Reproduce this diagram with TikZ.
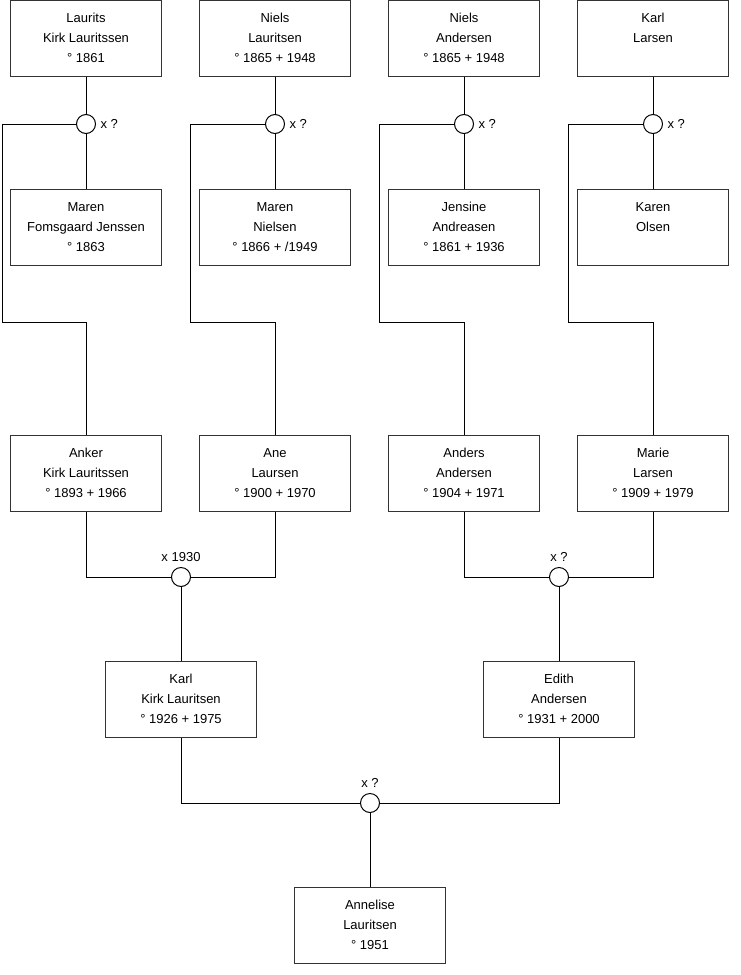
\documentclass[tikz,border=0pt]{standalone}
\usepackage{fontspec}
\setmainfont{Liberation Sans}

\begin{document}
\begin{tikzpicture}[x=1pt,y=-1pt,line width=1pt,
  person/.style={draw=black!80,minimum width=151pt,minimum height=76pt,inner sep=0pt,align=center,font=\fontsize{13}{20}\selectfont},
  wed/.style={draw,circle,minimum size=19pt,inner sep=0pt,fill=white},
  note/.style={font=\fontsize{13}{14}\selectfont,inner sep=0pt}]
  \useasboundingbox (0,0) rectangle (740,975);
  \node[person] (laurits) at (86,38){Laurits\\Kirk Lauritssen\\° 1861};
  \node[person] (nielsL) at (275,38){Niels\\Lauritsen\\° 1865 + 1948};
  \node[person] (nielsA) at (464,38){Niels\\Andersen\\° 1865 + 1948};
  \node[person] (karlL) at (653,38){Karl\\Larsen\\\mbox{}};
  \node[person] (marenF) at (86,227){Maren\\Fomsgaard Jenssen\\° 1863};
  \node[person] (marenN) at (275,227){Maren\\Nielsen\\° 1866 + /1949};
  \node[person] (jensine) at (464,227){Jensine\\Andreasen\\° 1861 + 1936};
  \node[person] (karen) at (653,227){Karen\\Olsen\\\mbox{}};
  \node[person] (anker) at (86,473){Anker\\Kirk Lauritssen\\° 1893 + 1966};
  \node[person] (ane) at (275,473){Ane\\Laursen\\° 1900 + 1970};
  \node[person] (anders) at (464,473){Anders\\Andersen\\° 1904 + 1971};
  \node[person] (marie) at (653,473){Marie\\Larsen\\° 1909 + 1979};
  \node[person] (karl) at (181,699){Karl\\Kirk Lauritsen\\° 1926 + 1975};
  \node[person] (edith) at (559,699){Edith\\Andersen\\° 1931 + 2000};
  \node[person] (annelise) at (370,925){Annelise\\Lauritsen\\° 1951};
  % marriages
  \node[wed,label={[note,label distance=4pt]right:x ?}] (w1) at (86,124){};
  \node[wed,label={[note,label distance=4pt]right:x ?}] (w2) at (275,124){};
  \node[wed,label={[note,label distance=4pt]right:x ?}] (w3) at (464,124){};
  \node[wed,label={[note,label distance=4pt]right:x ?}] (w4) at (653,124){};
  \node[wed,label={[note,label distance=5pt]above:x 1930}] (w12) at (181,577){};
  \node[wed,label={[note,label distance=5pt]above:x ?}] (w34) at (559,577){};
  \node[wed,label={[note,label distance=5pt]above:x ?}] (w0) at (370,803){};
  \coordinate (k1) at (2,124);
  \coordinate (k2) at (190,124);
  \coordinate (k3) at (379,124);
  \coordinate (k4) at (568,124);
  \coordinate (j1) at (86,322);
  \coordinate (j2) at (275,322);
  \coordinate (j3) at (464,322);
  \coordinate (j4) at (653,322);
  \draw (laurits) -- (w1) -- (marenF);
  \draw (nielsL) -- (w2) -- (marenN);
  \draw (nielsA) -- (w3) -- (jensine);
  \draw (karlL) -- (w4) -- (karen);
  \draw (w1) -- (k1) |- (j1) -- (anker);
  \draw (w2) -- (k2) |- (j2) -- (ane);
  \draw (w3) -- (k3) |- (j3) -- (anders);
  \draw (w4) -- (k4) |- (j4) -- (marie);
  \draw (anker) |- (w12) -| (ane);
  \draw (anders) |- (w34) -| (marie);
  \draw (w12) -- (karl);
  \draw (w34) -- (edith);
  \draw (karl) |- (w0) -| (edith);
  \draw (w0) -- (annelise);
\end{tikzpicture}
\end{document}
